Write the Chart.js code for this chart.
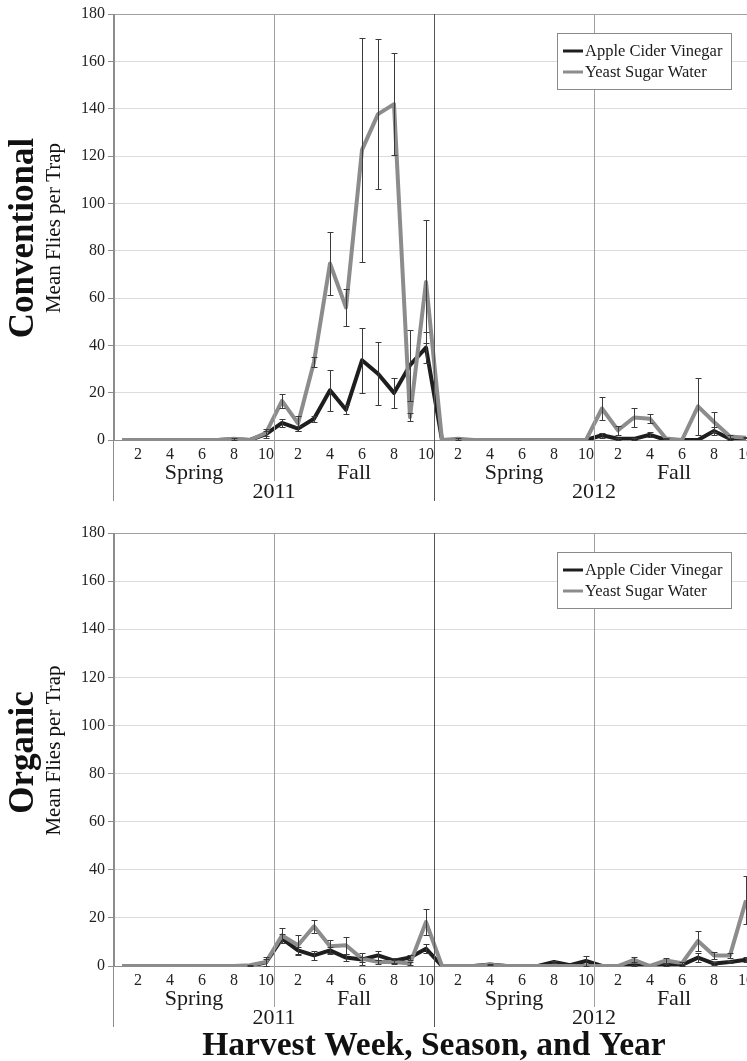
<!DOCTYPE html>
<html>
<head>
<meta charset="utf-8">
<script src="https://cdn.jsdelivr.net/npm/chart.js@4.4.0/dist/chart.umd.min.js"></script>
<style>
  html, body { margin: 0; padding: 0; background: #fff; overflow: hidden; width: 747px; height: 1061px; }
  .panel { position: absolute; left: 0; }
  #top { top: 0; }
  #bottom { top: 520px; }
</style>
</head>
<body>
<div class="panel" id="top"><canvas id="conv" width="760" height="520"></canvas></div>
<div class="panel" id="bottom"><canvas id="org" width="760" height="541"></canvas></div>
<script>
// categories
const weekLabels = ['1', '2', '3', '4', '5', '6', '7', '8', '9', '10'];
const seasons = ['Spring', 'Fall', 'Spring', 'Fall'];
const years = ['2011', '2012'];
const labels = seasons.flatMap(() => weekLabels);

// Conventional  (Spring 2011 | Fall 2011 | Spring 2012 | Fall 2012)
const convACV = [0, 0, 0, 0, 0, 0, 0, 0.3, 0, 2.5,
  7.2, 4.8, 9, 21, 12.8, 33.7, 28, 19.9, 31.6, 39,
  0, 0, 0, 0, 0, 0, 0, 0, 0, 0,
  2, 0.5, 0.5, 2.2, 0, 0, 0, 3.8, 0.5, 0.3];
const convACVErr = [0, 0, 0, 0, 0, 0, 0, 0, 0, 1.5,
  1.5, 1, 1.2, 8.6, 2, 13.7, 13.2, 6.4, 15, 6.5,
  0, 0, 0, 0, 0, 0, 0, 0, 0, 0,
  1, 0.3, 0.3, 1, 0, 0, 0, 1.5, 0.3, 0];
const convYSW = [0, 0, 0, 0, 0, 0, 0, 0.5, 0, 3,
  16.5, 7, 33, 74.6, 56, 122.6, 137.7, 141.9, 9.7, 66.8,
  0, 0.5, 0, 0, 0, 0, 0, 0, 0, 0,
  13.3, 4.1, 9.5, 9, 0.6, 0, 14.2, 7.6, 1.5, 1];
const convYSWErr = [0, 0, 0, 0, 0, 0, 0, 0.3, 0, 1.5,
  3, 3, 2, 13.4, 7.7, 47.3, 31.6, 21.5, 1.7, 26,
  0, 0.3, 0, 0, 0, 0, 0, 0, 0, 0,
  4.8, 2, 4.2, 2, 0.3, 0, 12, 4.3, 0.5, 0.3];

// Organic
const orgACV = [0, 0, 0, 0, 0, 0, 0, 0, 0, 1.5,
  11.4, 6.5, 4.4, 6.5, 3.5, 2.7, 4.4, 2.2, 3.5, 7.2,
  0, 0, 0, 0.6, 0, 0, 0, 1.7, 0.3, 2.1,
  0, 0, 0.3, 0, 0.5, 0.5, 3.5, 1, 1.7, 2.6];
const orgACVErr = [0, 0, 0, 0, 0, 0, 0, 0, 0, 1.5,
  2, 1.5, 2, 1.5, 1.5, 1, 1.8, 1, 1, 2,
  0, 0, 0, 0.3, 0, 0, 0, 0.5, 0, 2,
  0, 0, 0.3, 0, 0.3, 0.3, 2, 0.5, 0.5, 1];
const orgYSW = [0, 0, 0, 0, 0, 0, 0, 0, 0.3, 1.7,
  12.7, 8.6, 16.5, 8.2, 8.6, 3, 1.7, 1.7, 1, 18.3,
  0, 0, 0, 0.5, 0, 0, 0, 0, 0, 0,
  0, 0, 2.6, 0, 2.3, 1.2, 10.4, 4.4, 4.4, 27.3];
const orgYSWErr = [0, 0, 0, 0, 0, 0, 0, 0, 0.2, 2,
  3.2, 4.2, 2.7, 2.7, 3.5, 2.4, 1, 0.8, 0.5, 5.5,
  0, 0, 0, 0, 0, 0, 0, 0, 0, 0,
  0, 0, 1, 0, 1, 0.5, 4.1, 1.4, 1, 10];

const serif = "'Liberation Serif', 'Times New Roman', serif";
const axisGray = '#8c8c8c';

// vertical error bars with caps
const errorBars = {
  id: 'errorBars',
  afterDatasetsDraw(chart) {
    const ctx = chart.ctx, y = chart.scales.y;
    ctx.save();
    ctx.strokeStyle = '#3a3a3a';
    ctx.lineWidth = 1;
    chart.data.datasets.forEach((ds, d) => {
      chart.getDatasetMeta(d).data.forEach((pt, i) => {
        const e = ds.err[i];
        if (!e) return;
        const v = ds.data[i];
        const top = Math.round(y.getPixelForValue(v + e)) + 0.5;
        const bot = Math.round(y.getPixelForValue(Math.max(0, v - e))) + 0.5;
        const x = Math.round(pt.x) + 0.5;
        ctx.beginPath();
        ctx.moveTo(x, top); ctx.lineTo(x, bot);
        ctx.moveTo(x - 3, top); ctx.lineTo(x + 3, top);
        ctx.moveTo(x - 3, bot); ctx.lineTo(x + 3, bot);
        ctx.stroke();
      });
    });
    ctx.restore();
  }
};

// dividers, season / year rows, legend and side titles
const frame = {
  id: 'frame',
  afterDraw(chart, args, opts) {
    const ctx = chart.ctx, a = chart.chartArea, x = chart.scales.x;
    const edge = i => Math.round((x.getPixelForValue(i - 1) + x.getPixelForValue(i)) / 2) + 0.5;
    ctx.save();
    ctx.lineWidth = 1;
    const vline = (px, y2, col) => {
      ctx.strokeStyle = col;
      ctx.beginPath(); ctx.moveTo(px, a.top); ctx.lineTo(px, y2); ctx.stroke();
    };
    vline(Math.round(a.left) - 0.5, a.bottom + 61, axisGray);
    vline(edge(10), a.bottom + 41, '#a0a0a0');
    vline(edge(30), a.bottom + 41, '#a0a0a0');
    vline(edge(20), a.bottom + 61, '#555');

    ctx.fillStyle = '#1a1a1a';
    ctx.textAlign = 'center';
    ctx.textBaseline = 'middle';
    ctx.font = '22px ' + serif;
    seasons.forEach((s, g) => {
      const cx = (x.getPixelForValue(g * 10) + x.getPixelForValue(g * 10 + 9)) / 2;
      ctx.fillText(s, cx, a.bottom + 33);
    });
    years.forEach((yr, g) => {
      const cx = (x.getPixelForValue(g * 20) + x.getPixelForValue(g * 20 + 19)) / 2;
      ctx.fillText(yr, cx, a.bottom + 52);
    });

    // legend
    const lx = Math.round(a.left) + 443, ly = Math.round(a.top) + 19;
    ctx.fillStyle = '#fff';
    ctx.fillRect(lx, ly, 174, 56);
    ctx.strokeStyle = '#8a8a8a';
    ctx.strokeRect(lx + 0.5, ly + 0.5, 174, 56);
    chart.data.datasets.forEach((ds, d) => {
      const ry = ly + 18 + d * 21;
      ctx.strokeStyle = ds.borderColor;
      ctx.lineWidth = 3;
      ctx.beginPath(); ctx.moveTo(lx + 6, ry); ctx.lineTo(lx + 26, ry); ctx.stroke();
      ctx.fillStyle = '#1a1a1a';
      ctx.font = '16.5px ' + serif;
      ctx.textAlign = 'left';
      ctx.fillText(ds.label, lx + 28, ry + 1);
    });

    // side titles
    const cy = (a.top + a.bottom) / 2;
    ctx.fillStyle = '#111';
    ctx.textAlign = 'center';
    ctx.textBaseline = 'alphabetic';
    ctx.save();
    ctx.translate(33, cy + opts.shift);
    ctx.rotate(-Math.PI / 2);
    ctx.font = 'bold 35px ' + serif;
    ctx.fillText(opts.group, 0, 0);
    ctx.restore();
    ctx.save();
    ctx.translate(60, cy + 1);
    ctx.rotate(-Math.PI / 2);
    ctx.font = '21px ' + serif;
    ctx.fillText('Mean Flies per Trap', 0, 0);
    ctx.restore();

    if (opts.xTitle) {
      ctx.font = 'bold 33.5px ' + serif;
      ctx.fillText(opts.xTitle, (a.left + a.right) / 2, a.bottom + 89);
    }
    ctx.restore();
  }
};

function makeChart(id, acv, acvErr, ysw, yswErr, opts) {
  return new Chart(document.getElementById(id), {
    type: 'line',
    data: {
      labels: labels,
      datasets: [
        { label: 'Apple Cider Vinegar', data: acv, err: acvErr, borderColor: '#1e1e1e', borderWidth: 4,
          pointRadius: 0, borderJoinStyle: 'round', tension: 0, order: 1 },
        { label: 'Yeast Sugar Water', data: ysw, err: yswErr, borderColor: '#8c8c8c', borderWidth: 4,
          pointRadius: 0, borderJoinStyle: 'round', tension: 0, order: 0 }
      ]
    },
    options: {
      responsive: false,
      animation: false,
      layout: { padding: { top: opts.top, right: 6, left: 0, bottom: 0 } },
      plugins: {
        legend: { display: false },
        tooltip: { enabled: false },
        frame: opts
      },
      scales: {
        x: {
          offset: true,
          grid: { display: false, drawTicks: false },
          border: { color: axisGray },
          afterFit: s => { s.height = opts.xh; },
          ticks: {
            autoSkip: false, maxRotation: 0, padding: 5, color: '#222',
            font: { family: serif, size: 16 },
            callback: function (v, i) { return i % 2 === 1 ? this.getLabelForValue(v) : ''; }
          }
        },
        y: {
          min: 0, max: 180,
          afterFit: s => { s.width = 114; },
          border: { color: axisGray },
          grid: {
            color: c => c.tick.value === 180 ? '#a0a0a0' : '#dcdcdc',
            tickLength: 6, tickColor: axisGray
          },
          ticks: { stepSize: 20, padding: 3, color: '#222', font: { family: serif, size: 16 } }
        }
      }
    },
    plugins: [errorBars, frame]
  });
}

makeChart('conv', convACV, convACVErr, convYSW, convYSWErr,
  { group: 'Conventional', shift: 11, top: 14, xh: 80 });
makeChart('org', orgACV, orgACVErr, orgYSW, orgYSWErr,
  { group: 'Organic', shift: 3, top: 13, xh: 95, xTitle: 'Harvest Week, Season, and Year' });
</script>
</body>
</html>
